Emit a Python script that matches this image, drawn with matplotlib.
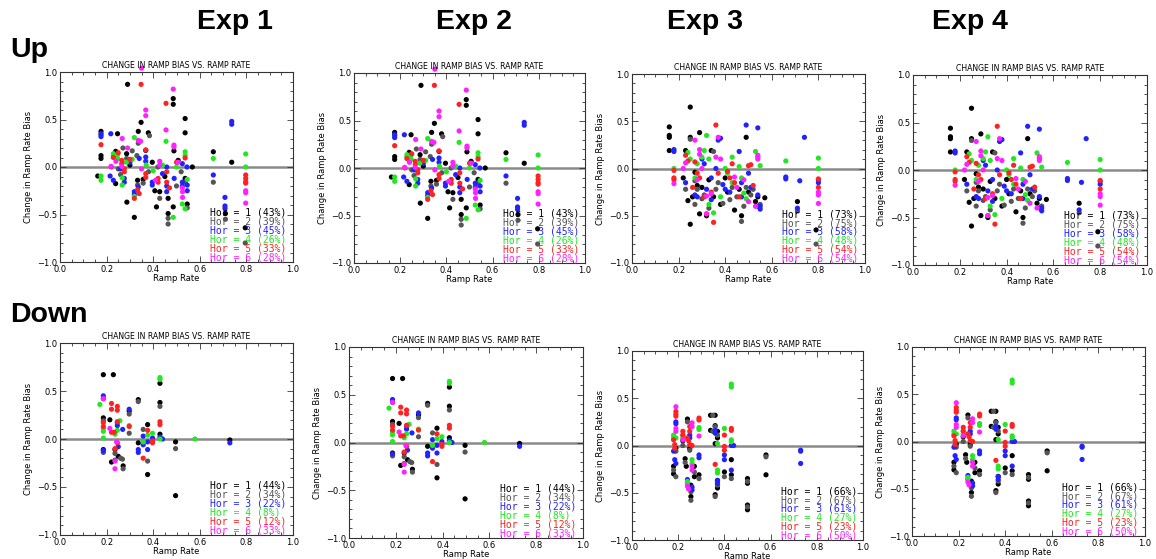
import matplotlib
matplotlib.use('Agg')
import numpy as np
import matplotlib.pyplot as plt
from matplotlib.ticker import MultipleLocator

# ramp rate / change in ramp rate bias, one list of (x, y) per forecast horizon
# --- ramp up, experiments 1 and 2
up_a_hor1 = [(0.29, 0.87), (0.486, 0.72), (0.486, 0.66), (0.348, 0.47), (0.537, 0.51), (0.176, 0.375),
             (0.247, 0.35), (0.336, 0.375), (0.379, 0.36), (0.537, 0.36), (0.176, 0.12), (0.176, 0.09),
             (0.489, 0.17), (0.368, 0.175), (0.239, 0.165), (0.286, 0.14), (0.396, 0.05), (0.507, 0.07),
             (0.568, 0.0), (0.162, -0.095), (0.239, -0.175), (0.287, -0.37), (0.319, -0.53), (0.333, -0.14),
             (0.357, -0.13), (0.407, -0.25), (0.428, -0.26), (0.414, -0.42), (0.464, -0.33), (0.486, -0.42),
             (0.464, -0.49), (0.537, -0.12), (0.546, -0.39), (0.658, 0.16), (0.737, 0.05), (0.71, -0.49),
             (0.795, -0.64), (0.30, 0.02), (0.45, -0.10)]
up_a_hor2 = [(0.176, 0.34), (0.384, 0.33), (0.336, 0.25), (0.27, 0.20), (0.31, 0.17), (0.33, 0.12),
             (0.25, -0.02), (0.286, 0.09), (0.333, -0.19), (0.357, -0.17), (0.428, -0.33), (0.464, -0.54),
             (0.464, -0.60), (0.537, -0.16), (0.546, -0.43), (0.658, -0.16), (0.71, -0.55), (0.795, -0.80),
             (0.26, -0.08), (0.38, -0.05), (0.50, -0.20), (0.42, 0.0), (0.52, -0.05)]
up_a_hor3 = [(0.176, 0.35), (0.176, 0.32), (0.218, 0.35), (0.368, 0.105), (0.368, 0.06), (0.458, 0.0),
             (0.525, 0.035), (0.215, -0.095), (0.229, -0.14), (0.276, -0.12), (0.276, -0.16), (0.319, -0.26),
             (0.319, -0.29), (0.336, -0.21), (0.396, -0.16), (0.396, -0.19), (0.458, -0.20), (0.458, -0.26),
             (0.525, -0.16), (0.525, -0.20), (0.546, -0.19), (0.546, -0.25), (0.658, -0.084), (0.737, 0.48),
             (0.737, 0.45), (0.708, -0.32), (0.708, -0.41), (0.708, -0.435), (0.30, 0.05), (0.34, 0.09),
             (0.44, -0.07), (0.49, -0.12), (0.26, -0.02), (0.545, 0.0)]
up_a_hor4 = [(0.319, 0.31), (0.455, 0.27), (0.537, 0.16), (0.537, 0.12), (0.229, 0.14), (0.229, 0.12),
             (0.247, 0.13), (0.247, 0.09), (0.176, -0.095), (0.176, -0.14), (0.267, -0.115), (0.267, -0.19),
             (0.319, -0.31), (0.525, -0.39), (0.546, -0.13), (0.486, -0.53), (0.537, -0.44), (0.658, 0.09),
             (0.797, 0.137), (0.797, 0.0), (0.31, 0.08), (0.37, 0.02), (0.40, -0.04), (0.44, 0.02),
             (0.50, 0.0), (0.285, 0.05)]
up_a_hor5 = [(0.348, 0.87), (0.455, 0.67), (0.176, 0.235), (0.368, 0.18), (0.537, 0.095), (0.229, 0.10),
             (0.265, 0.07), (0.265, 0.035), (0.276, -0.018), (0.276, -0.05), (0.458, -0.05), (0.319, -0.33),
             (0.333, -0.24), (0.368, -0.07), (0.368, -0.11), (0.421, -0.12), (0.421, -0.16), (0.458, -0.16),
             (0.22, 0.0), (0.30, 0.08), (0.50, 0.05), (0.797, -0.084), (0.797, -0.12), (0.797, -0.155),
             (0.797, -0.17), (0.25, 0.15), (0.34, -0.28), (0.47, -0.22)]
up_a_hor6 = [(0.486, 0.82), (0.368, 0.60), (0.368, 0.54), (0.455, 0.39), (0.267, 0.30), (0.336, 0.28),
             (0.346, 0.27), (0.489, 0.23), (0.489, 0.21), (0.265, 0.007), (0.219, 0.007), (0.428, 0.06),
             (0.428, 0.02), (0.507, 0.05), (0.526, -0.26), (0.526, -0.32), (0.525, -0.22), (0.41, -0.14),
             (0.797, -0.25), (0.797, -0.27), (0.797, -0.38), (0.24, 0.06), (0.35, -0.02), (0.29, 0.20),
             (0.35, 1.04)]

# --- ramp up, experiments 3 and 4
up_b_hor1 = [(0.16, 0.44), (0.16, 0.35), (0.16, 0.33), (0.16, 0.19), (0.25, 0.65), (0.23, 0.19),
             (0.24, -0.34), (0.25, 0.33), (0.27, -0.04), (0.28, -0.18), (0.29, 0.38), (0.29, -0.48),
             (0.25, -0.59), (0.30, -0.20), (0.32, -0.50), (0.34, 0.19), (0.35, -0.30), (0.38, -0.38),
             (0.41, -0.25), (0.44, -0.44), (0.47, -0.50), (0.49, 0.33), (0.50, -0.25), (0.53, -0.35),
             (0.54, -0.30), (0.57, -0.31), (0.71, -0.35), (0.79, -0.65), (0.22, -0.10), (0.26, -0.30),
             (0.33, -0.12), (0.40, -0.10), (0.46, -0.22)]
up_b_hor2 = [(0.25, 0.31), (0.27, -0.13), (0.28, -0.22), (0.27, -0.38), (0.31, -0.28), (0.33, -0.42),
             (0.35, 0.18), (0.37, -0.15), (0.39, -0.37), (0.42, -0.33), (0.45, -0.30), (0.47, -0.56),
             (0.48, -0.40), (0.49, -0.20), (0.51, -0.28), (0.54, -0.40), (0.55, -0.38), (0.71, -0.45),
             (0.79, -0.80), (0.23, -0.22), (0.30, -0.32), (0.36, -0.22), (0.43, -0.20), (0.52, -0.22)]
up_b_hor3 = [(0.18, 0.20), (0.18, 0.18), (0.27, -0.28), (0.28, -0.30), (0.30, 0.10), (0.31, 0.05),
             (0.32, -0.22), (0.34, -0.10), (0.34, -0.33), (0.37, 0.30), (0.38, 0.32), (0.39, -0.17),
             (0.40, -0.22), (0.42, -0.25), (0.46, 0.18), (0.47, -0.15), (0.47, -0.30), (0.49, 0.46),
             (0.50, -0.05), (0.51, -0.20), (0.54, 0.43), (0.54, -0.28), (0.55, -0.40), (0.55, -0.43),
             (0.66, -0.09), (0.66, -0.11), (0.72, -0.13), (0.71, -0.42), (0.74, 0.33), (0.80, -0.15),
             (0.80, -0.12), (0.23, -0.15), (0.36, 0.0)]
up_b_hor4 = [(0.18, 0.0), (0.24, 0.17), (0.25, 0.10), (0.28, 0.05), (0.30, 0.12), (0.31, 0.19),
             (0.32, 0.35), (0.33, 0.10), (0.33, -0.38), (0.35, -0.47), (0.40, 0.0), (0.41, -0.05),
             (0.43, -0.15), (0.43, 0.12), (0.46, 0.02), (0.47, -0.10), (0.48, -0.26), (0.49, -0.32),
             (0.53, 0.18), (0.55, 0.03), (0.66, 0.08), (0.80, 0.11), (0.80, 0.0), (0.27, -0.10),
             (0.38, -0.30)]
up_b_hor5 = [(0.18, -0.02), (0.18, -0.10), (0.18, -0.12), (0.23, 0.14), (0.24, 0.08), (0.27, 0.07),
             (0.28, -0.05), (0.29, -0.10), (0.31, -0.30), (0.32, -0.48), (0.34, -0.25), (0.35, -0.57),
             (0.36, 0.46), (0.41, -0.03), (0.42, -0.10), (0.43, 0.05), (0.44, -0.15), (0.46, -0.30),
             (0.50, 0.03), (0.51, 0.04), (0.52, -0.18), (0.54, 0.12), (0.80, -0.11), (0.80, -0.20),
             (0.37, -0.05), (0.26, -0.20)]
up_b_hor6 = [(0.18, -0.16), (0.22, 0.0), (0.23, 0.06), (0.27, 0.30), (0.29, 0.20), (0.29, 0.15),
             (0.30, 0.0), (0.32, -0.29), (0.32, -0.48), (0.34, -0.27), (0.36, 0.12), (0.37, 0.33),
             (0.38, 0.10), (0.44, -0.09), (0.45, -0.20), (0.48, -0.12), (0.50, -0.35), (0.53, -0.40),
             (0.54, 0.14), (0.54, 0.10), (0.80, -0.25), (0.80, -0.28), (0.80, -0.37), (0.28, -0.12)]

# --- ramp down, experiments 1 and 2
down_a_hor1 = [(0.186, 0.67), (0.229, 0.67), (0.186, 0.22), (0.214, 0.20), (0.186, -0.11), (0.221, -0.24),
               (0.236, -0.11), (0.25, -0.18), (0.271, -0.28), (0.297, 0.29), (0.336, 0.41), (0.336, -0.04),
               (0.376, 0.15), (0.376, -0.37), (0.429, 0.58), (0.429, 0.38), (0.429, 0.05), (0.496, -0.03),
               (0.496, -0.59), (0.729, -0.01)]
down_a_hor2 = [(0.186, 0.19), (0.186, -0.14), (0.236, -0.22), (0.236, -0.15), (0.26, -0.20), (0.268, -0.21),
               (0.271, -0.31), (0.297, 0.26), (0.297, 0.06), (0.336, 0.39), (0.357, 0.10), (0.376, -0.23),
               (0.429, 0.34), (0.496, -0.10)]
down_a_hor3 = [(0.186, 0.45), (0.186, 0.42), (0.186, -0.12), (0.246, 0.17), (0.246, 0.14), (0.25, -0.08),
               (0.297, 0.31), (0.269, 0.10), (0.336, -0.14), (0.336, -0.11), (0.357, 0.03), (0.376, -0.03),
               (0.376, -0.11), (0.429, 0.02), (0.44, 0.0), (0.729, -0.04), (0.357, -0.06), (0.397, 0.01)]
down_a_hor4 = [(0.171, 0.36), (0.186, 0.11), (0.186, 0.08), (0.186, 0.01), (0.236, 0.05), (0.246, 0.09),
               (0.257, 0.19), (0.297, 0.14), (0.357, -0.03), (0.376, 0.04), (0.397, 0.06), (0.429, 0.64),
               (0.429, 0.62), (0.429, 0.0), (0.579, 0.0)]
down_a_hor5 = [(0.186, 0.17), (0.186, 0.13), (0.221, 0.37), (0.221, 0.31), (0.246, 0.34), (0.246, 0.30),
               (0.246, 0.18), (0.236, -0.10), (0.221, 0.07), (0.232, 0.07), (0.246, -0.04), (0.297, 0.13),
               (0.357, -0.20), (0.397, -0.02), (0.397, -0.04), (0.429, 0.18), (0.429, 0.15), (0.376, 0.09)]
down_a_hor6 = [(0.186, 0.42), (0.214, 0.11), (0.236, -0.31), (0.236, -0.23), (0.243, -0.03)]

# --- ramp down, experiments 3 and 4
down_b_hor1 = [(0.18, -0.22), (0.18, -0.30), (0.19, -0.03), (0.22, 0.05), (0.23, -0.14), (0.235, -0.22),
               (0.24, 0.28), (0.25, -0.03), (0.255, -0.42), (0.255, -0.54), (0.27, -0.22), (0.27, -0.33),
               (0.29, -0.31), (0.34, 0.32), (0.36, 0.32), (0.34, 0.16), (0.36, 0.21), (0.36, 0.02),
               (0.36, -0.52), (0.37, 0.15), (0.37, 0.08), (0.37, -0.37), (0.37, -0.45), (0.40, -0.28),
               (0.43, -0.15), (0.43, -0.31), (0.50, -0.35), (0.50, -0.40), (0.50, -0.63), (0.50, -0.68),
               (0.58, -0.10), (0.58, -0.31)]
down_b_hor2 = [(0.18, -0.26), (0.19, -0.33), (0.19, -0.06), (0.22, 0.0), (0.23, -0.18), (0.24, 0.25),
               (0.25, -0.05), (0.255, -0.49), (0.255, -0.58), (0.27, -0.28), (0.29, -0.35), (0.35, 0.32),
               (0.35, 0.15), (0.36, 0.20), (0.36, -0.54), (0.37, 0.11), (0.37, -0.42), (0.40, -0.33),
               (0.43, -0.35), (0.50, -0.38), (0.50, -0.65), (0.58, -0.12)]
down_b_hor3 = [(0.18, -0.06), (0.185, -0.15), (0.19, -0.19), (0.19, 0.25), (0.19, 0.23), (0.24, -0.36),
               (0.24, -0.40), (0.25, 0.11), (0.25, 0.08), (0.26, -0.44), (0.26, -0.47), (0.29, -0.10),
               (0.29, -0.13), (0.36, 0.16), (0.36, 0.13), (0.37, -0.37), (0.37, -0.40), (0.40, -0.10),
               (0.40, -0.15), (0.43, -0.26), (0.43, 0.0), (0.44, 0.0), (0.73, -0.05), (0.73, -0.06),
               (0.73, -0.19)]
down_b_hor4 = [(0.18, 0.11), (0.18, 0.08), (0.19, 0.08), (0.22, 0.11), (0.22, 0.08), (0.24, -0.38),
               (0.24, -0.40), (0.26, -0.15), (0.26, -0.19), (0.29, 0.19), (0.29, 0.17), (0.37, 0.02),
               (0.37, -0.26), (0.37, -0.29), (0.40, 0.18), (0.43, 0.65), (0.43, 0.62), (0.43, 0.06),
               (0.43, 0.04)]
down_b_hor5 = [(0.19, 0.36), (0.19, 0.33), (0.19, 0.31), (0.18, 0.06), (0.185, 0.01), (0.185, -0.03),
               (0.22, 0.15), (0.22, 0.11), (0.24, 0.08), (0.245, 0.05), (0.25, 0.20), (0.25, 0.15),
               (0.25, 0.01), (0.26, 0.0), (0.29, 0.29), (0.29, 0.27), (0.36, -0.20), (0.40, 0.11),
               (0.40, -0.01), (0.40, -0.05), (0.43, 0.18), (0.43, 0.16)]
down_b_hor6 = [(0.19, 0.41), (0.19, 0.18), (0.19, 0.15), (0.22, 0.06), (0.24, -0.43), (0.245, -0.46),
               (0.26, 0.24), (0.26, 0.20), (0.26, -0.22), (0.26, -0.26), (0.29, 0.10)]

up_a = [up_a_hor1, up_a_hor2, up_a_hor3, up_a_hor4, up_a_hor5, up_a_hor6]
up_b = [up_b_hor1, up_b_hor2, up_b_hor3, up_b_hor4, up_b_hor5, up_b_hor6]
down_a = [down_a_hor1, down_a_hor2, down_a_hor3, down_a_hor4, down_a_hor5, down_a_hor6]
down_b = [down_b_hor1, down_b_hor2, down_b_hor3, down_b_hor4, down_b_hor5, down_b_hor6]

# percent of cases per horizon
up_pct_12 = [43, 39, 45, 26, 33, 28]
up_pct_34 = [73, 75, 58, 48, 54, 54]
down_pct_12 = [44, 34, 22, 8, 12, 33]
down_pct_34 = [66, 67, 61, 27, 23, 50]

exp_titles = ['Exp 1', 'Exp 2', 'Exp 3', 'Exp 4']
row_titles = ['Up', 'Down']
hor_colors = ['#000000', '#555555', '#2222ff', '#22e822', '#ff2222', '#ff22ff']
W, H = 1156, 559

# axes boxes in pixels: left, top, right, bottom
boxes = [
    [(60, 72, 293, 262), (354, 73, 585, 263), (632, 74, 865, 263), (913, 75, 1147, 265)],
    [(60, 343, 293, 535), (349, 347, 583, 538), (632, 351, 863, 540), (912, 347, 1145, 536)],
]
panels = [
    [(up_a, up_pct_12), (up_a, up_pct_12), (up_b, up_pct_34), (up_b, up_pct_34)],
    [(down_a, down_pct_12), (down_a, down_pct_12), (down_b, down_pct_34), (down_b, down_pct_34)],
]


def draw_panel(ax, series, pct):
    ax.axhline(0, color='#8a8a8a', lw=1.8, zorder=1)
    for i, pts in enumerate(series):
        arr = np.array(pts)
        ax.scatter(arr[:, 0], arr[:, 1], s=14, color=hor_colors[i], edgecolors='none',
                   zorder=3, clip_on=False)
    ax.set_xlim(0, 1)
    ax.set_ylim(-1, 1)
    ax.xaxis.set_major_locator(MultipleLocator(0.2))
    ax.xaxis.set_minor_locator(MultipleLocator(0.05))
    ax.yaxis.set_major_locator(MultipleLocator(0.5))
    ax.yaxis.set_minor_locator(MultipleLocator(0.1))
    ax.tick_params(which='both', direction='in', top=True, right=True, labelsize=6,
                   color='#333333', width=0.6, pad=2)
    ax.tick_params(which='major', length=4)
    ax.tick_params(which='minor', length=2)
    ax.xaxis.set_major_formatter(plt.FuncFormatter(lambda v, p: f'{v:.1f}'))
    ax.yaxis.set_major_formatter(plt.FuncFormatter(lambda v, p: f'{v:.1f}'.replace('-', '\u2212')))
    for sp in ax.spines.values():
        sp.set_linewidth(0.8)
        sp.set_color('#333333')
    ax.set_title('CHANGE IN RAMP BIAS VS. RAMP RATE', fontsize=5.6, pad=3)
    ax.set_xlabel('Ramp Rate', fontsize=6, labelpad=0)
    ax.set_ylabel('Change in Ramp Rate Bias', fontsize=6, labelpad=3)
    for i, p in enumerate(pct):
        ax.text(0.645, 0.258 - i * 0.0465, f'Hor = {i + 1} ({p}%)', transform=ax.transAxes,
                fontsize=7, family='DejaVu Sans Mono', color=hor_colors[i], va='center', zorder=4)


fig = plt.figure(figsize=(W / 100, H / 100), dpi=100)
for r in range(2):
    for c in range(4):
        l, t, rr, b = boxes[r][c]
        ax = fig.add_axes([l / W, 1 - b / H, (rr - l) / W, (b - t) / H])
        series, pct = panels[r][c]
        draw_panel(ax, series, pct)

exp_x = [235, 474, 705, 970]
for name, x in zip(exp_titles, exp_x):
    fig.text(x / W, 1 - 22 / H, name, fontsize=20.5, fontweight='bold',
             family='Liberation Sans', ha='center', va='center')
fig.text(10 / W, 1 - 50 / H, row_titles[0], fontsize=20.5, fontweight='bold',
         family='Liberation Sans', ha='left', va='center')
fig.text(10 / W, 1 - 315 / H, row_titles[1], fontsize=20.5, fontweight='bold',
         family='Liberation Sans', ha='left', va='center')

fig.savefig('out.png', dpi=100)
